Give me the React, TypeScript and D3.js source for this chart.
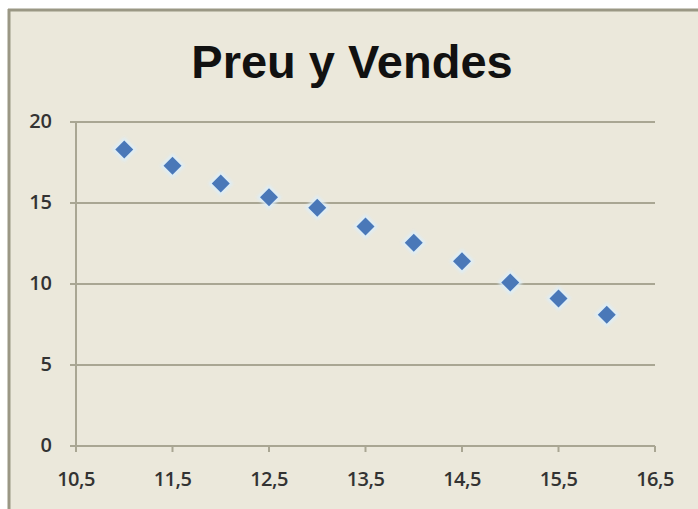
import React from "react";
import * as d3 from "d3";

const prices = [11, 11.5, 12, 12.5, 13, 13.5, 14, 14.5, 15, 15.5, 16];
const sales = [18.3, 17.3, 16.2, 15.35, 14.7, 13.55, 12.55, 11.4, 10.1, 9.1, 8.1];
const xTicks = [10.5, 11.5, 12.5, 13.5, 14.5, 15.5, 16.5];
const yTicks = [0, 5, 10, 15, 20];
const title = "Preu y Vendes";

const W = 698;
const H = 509;

export default function App() {
  const x = d3.scaleLinear().domain([10.5, 16.5]).range([76, 655]);
  const y = d3.scaleLinear().domain([0, 20]).range([446, 122]);
  const fmt = (v: number) => String(v).replace(".", ",");
  const diamond = (cx: number, cy: number, r: number) =>
    `M${cx},${cy - r}L${cx + r},${cy}L${cx},${cy + r}L${cx - r},${cy}Z`;
  const labelFont = "'Open Sans', 'DejaVu Sans', sans-serif";

  return (
    <svg
      width={W}
      height={H}
      style={{ position: "absolute", left: 0, top: 0 }}
      viewBox={`0 0 ${W} ${H}`}
    >
      <defs>
        <filter id="glow" x="-50%" y="-50%" width="200%" height="200%">
          <feGaussianBlur stdDeviation="1.5" />
        </filter>
      </defs>
      <rect x={0} y={0} width={W} height={H} fill="#ffffff" />
      <rect x={8} y={9} width={W} height={H} fill="#EBE8DB" />
      <line x1={8} x2={W} y1={10} y2={10} stroke="#9a9784" strokeWidth={3} />
      <line x1={9} x2={9} y1={9} y2={H} stroke="#9a9784" strokeWidth={3} />

      <text
        x={352}
        y={78}
        textAnchor="middle"
        fontFamily="'Liberation Sans', Arial, sans-serif"
        fontWeight="bold"
        fontSize={47}
        fill="#111111"
      >
        {title}
      </text>

      {yTicks.filter((t) => t > 0).map((t) => (
        <line
          key={"g" + t}
          x1={70}
          x2={655}
          y1={y(t)}
          y2={y(t)}
          stroke="#a9a693"
          strokeWidth={2.2}
        />
      ))}
      <line x1={x(10.5)} x2={x(10.5)} y1={y(20)} y2={y(0)} stroke="#a9a693" strokeWidth={2} />
      <line x1={70} x2={655} y1={y(0)} y2={y(0)} stroke="#a9a693" strokeWidth={2.2} />
      {xTicks.map((t) => (
        <line
          key={"xt" + t}
          x1={x(t)}
          x2={x(t)}
          y1={y(0)}
          y2={y(0) + 6}
          stroke="#a9a693"
          strokeWidth={2}
        />
      ))}

      {yTicks.map((t) => (
        <text
          key={"yl" + t}
          x={52}
          y={y(t) + 6}
          textAnchor="end"
          fontFamily={labelFont}
          fontWeight={600}
          fontSize={20}
          fill="#333333"
        >
          {t}
        </text>
      ))}
      {xTicks.map((t) => (
        <text
          key={"xl" + t}
          x={x(t)}
          y={486}
          textAnchor="middle"
          fontFamily={labelFont}
          fontWeight={600}
          fontSize={20}
          letterSpacing={-0.5}
          fill="#333333"
        >
          {fmt(t)}
        </text>
      ))}

      {prices.map((p, i) => (
        <g key={"p" + i}>
          <path
            d={diamond(x(p), y(sales[i]), 12.5)}
            fill="#dceefa"
            opacity={0.9}
            filter="url(#glow)"
          />
          <path d={diamond(x(p), y(sales[i]), 9)} fill="#4a78b8" />
        </g>
      ))}
    </svg>
  );
}
